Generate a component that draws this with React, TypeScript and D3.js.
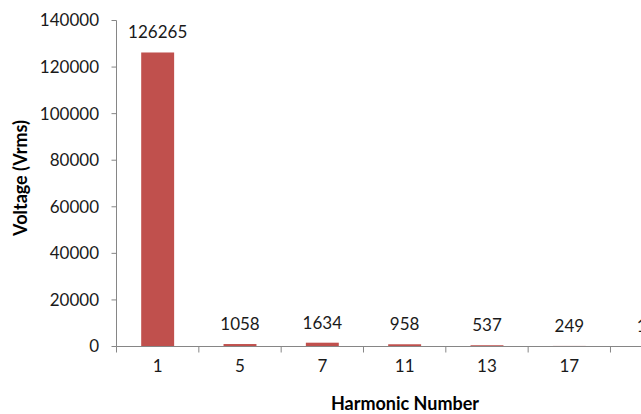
import React from "react";
import * as d3 from "d3";

const categories = ["1", "5", "7", "11", "13", "17", "19"];
const values = [126265, 1058, 1634, 958, 537, 249, 143];
const yTicks = [0, 20000, 40000, 60000, 80000, 100000, 120000, 140000];

const W = 641;
const H = 414;
const axisX = 116.5;
const step = 82.33;
const y0 = 346.5;
const yTop = 20.5;

export default function App() {
  const x = d3
    .scaleBand<string>()
    .domain(categories)
    .range([axisX, axisX + step * categories.length])
    .paddingInner(0.6)
    .paddingOuter(0.3);
  const y = d3.scaleLinear().domain([0, 140000]).range([y0, yTop]);
  const font = "Lato, 'Open Sans', sans-serif";
  const boundaries = d3.range(categories.length + 1).map((i) => axisX + i * step);

  return (
    <svg
      width={W}
      height={H}
      style={{ position: "absolute", left: 0, top: 0, background: "#fff" }}
      fontFamily={font}
    >
      {values.map((v, i) => (
        <rect
          key={"b" + i}
          x={x(categories[i])!}
          y={y(v)}
          width={x.bandwidth()}
          height={y0 - y(v)}
          fill="#C0504D"
        />
      ))}
      {/* y axis */}
      <line x1={axisX} x2={axisX} y1={yTop} y2={y0} stroke="#868686" strokeWidth={1} />
      {yTicks.map((t) => (
        <g key={"yt" + t}>
          <line x1={axisX - 5} x2={axisX} y1={y(t)} y2={y(t)} stroke="#868686" />
          <text
            x={99}
            y={y(t)}
            dy="0.35em"
            textAnchor="end"
            fontSize={17}
            fill="#1a1a1a"
          >
            {t}
          </text>
        </g>
      ))}
      {/* x axis */}
      <line x1={axisX} x2={W} y1={y0} y2={y0} stroke="#868686" strokeWidth={1} />
      {boundaries.map((b, i) => (
        <line key={"xt" + i} x1={b} x2={b} y1={y0} y2={y0 + 6} stroke="#868686" />
      ))}
      {categories.map((c) => (
        <text
          key={"xl" + c}
          x={x(c)! + x.bandwidth() / 2}
          y={372}
          textAnchor="middle"
          fontSize={17}
          fill="#1a1a1a"
        >
          {c}
        </text>
      ))}
      {values.map((v, i) => (
        <text
          key={"vl" + i}
          x={x(categories[i])! + x.bandwidth() / 2}
          y={y(v) - 14}
          textAnchor="middle"
          fontSize={17}
          fill="#1a1a1a"
        >
          {v}
        </text>
      ))}
      <text
        x={405}
        y={410}
        textAnchor="middle"
        fontSize={18}
        fontWeight="bold"
        fill="#000"
      >
        Harmonic Number
      </text>
      <text
        transform={`translate(27,178) rotate(-90)`}
        textAnchor="middle"
        fontSize={18}
        fontWeight="bold"
        fill="#000"
      >
        Voltage (Vrms)
      </text>
    </svg>
  );
}
